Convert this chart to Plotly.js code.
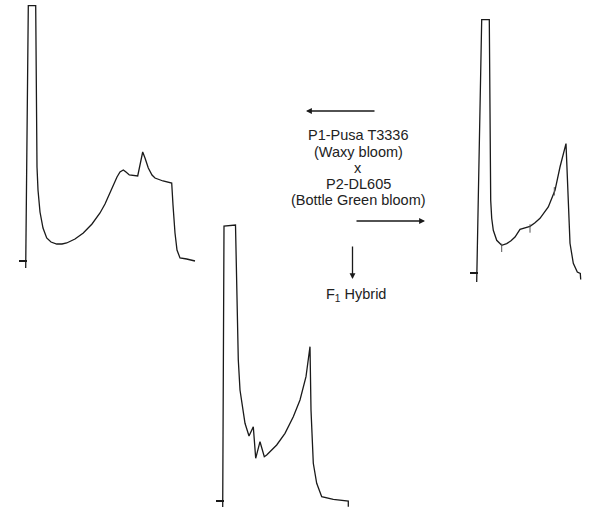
<!DOCTYPE html>
<html>
<head>
<meta charset="utf-8">
<script src="https://cdn.plot.ly/plotly-3.0.1.min.js"></script>
<style>html,body{margin:0;padding:0;background:#fff;}#chart{width:589px;height:508px;}</style>
</head>
<body>
<div id="chart"></div>
<script>
// Profile 1 : P1-Pusa T3336 (Waxy bloom)
const p1X = [0, 2.6, 10, 10.5, 11.3, 12.3, 14.3, 17.3, 21, 25.3, 31, 36.3, 41, 49.3, 57.6, 66.3, 74.3, 79.3, 84.3, 88.3, 91.3, 94.3, 97.6, 100.3, 103.6, 112, 114.3, 117, 119.3, 122.6, 126.3, 129.3, 137.3, 146, 147.3, 149.3, 151.3, 154.3, 161, 169.3];
const p1Y = [-7, 255.3, 255.3, 141, 94, 71, 49, 33, 23, 19, 17, 17, 18, 22, 28, 37, 48, 57, 68, 78, 84, 89, 91, 89, 86, 85, 96, 109, 103, 93, 86, 83, 80, 78, 56, 28, 11, 3, 2, 0];

// Profile 2 : P2-DL605 (Bottle Green bloom)
const p2X = [0, 5, 12.6, 13.3, 14, 15, 16.6, 20, 25, 30, 34.3, 38.3, 43.3, 53.3, 58.3, 63.3, 71.6, 78.3, 83.3, 89.3, 91.6, 93.3, 96.6, 100.6, 103.6, 104];
const p2Y = [-9, 253.4, 253.4, 152.7, 72.7, 54.7, 42.7, 32.7, 27.7, 29.4, 32.2, 36, 43.7, 46.7, 50.2, 54.7, 66, 82.7, 106, 129.4, 72.7, 29.7, 9.7, 1, -0.5, -6.5];
const p2MarkX = [25, 53.3, 77.6];
const p2MarkY = [25.2, 44.5, 81.7];

// Profile 3 : F1 Hybrid
const p3X = [0, 1.3, 12.8, 14.3, 15.6, 17.3, 19, 22.3, 26.3, 30.6, 33, 37.3, 41.6, 44, 54, 62.3, 70.6, 77.3, 83.3, 87.3, 88.3, 89.3, 90.6, 94, 99, 110.6, 125.6, 125.6];
const p3Y = [-6, 275, 276, 201, 141, 111, 97.7, 77.7, 65, 74.3, 42.7, 59.3, 44.3, 46, 56, 67.7, 84.3, 101, 124.3, 154.3, 91, 61, 37.7, 17.7, 4.3, 1.7, 0, -5.7];

const crossLabel = ["P1-Pusa T3336", "(Waxy bloom)", "x", "P2-DL605", "(Bottle Green bloom)"];
const crossLineY = [135, 151.5, 168, 184, 200];
const hybridLabel = "F<sub>1</sub> Hybrid";

const W = 589, H = 508;
const lineStyle = {color: '#1a1a1a', width: 1.3, shape: 'linear'};

const traces = [
  {x: p1X, y: p1Y, xaxis: 'x', yaxis: 'y', mode: 'lines', line: lineStyle, hoverinfo: 'skip'},
  {x: p2X, y: p2Y, xaxis: 'x2', yaxis: 'y2', mode: 'lines', line: lineStyle, hoverinfo: 'skip'},
  {x: p2MarkX, y: p2MarkY, xaxis: 'x2', yaxis: 'y2', mode: 'markers',
   marker: {symbol: 'line-ns', size: 6, line: {color: '#555', width: 1}}, hoverinfo: 'skip'},
  {x: p3X, y: p3Y, xaxis: 'x3', yaxis: 'y3', mode: 'lines', line: lineStyle, hoverinfo: 'skip'}
];

const TICK_SHIFT = 1.5;
function xAx(leftPx, rightPx, startVal) {
  return {domain: [leftPx / W, rightPx / W], range: [startVal, startVal + (rightPx - leftPx)],
          visible: false, fixedrange: true};
}
function yAx(topPx, bottomPx, baselinePx, linePx) {
  return {domain: [(H - bottomPx) / H, (H - topPx) / H],
          range: [baselinePx - bottomPx, baselinePx - topPx],
          anchor: 'free', position: (linePx + TICK_SHIFT) / W,
          showgrid: false, zeroline: false, showline: false,
          ticks: 'outside', tickvals: [0], ticklen: 8, tickwidth: 1.2, tickcolor: '#1a1a1a',
          showticklabels: false, fixedrange: true};
}

const font = {family: 'Liberation Sans, Arial, sans-serif', size: 14.5, color: '#222'};
function arrow(headX, headY, ax, ay) {
  return {x: headX / W, y: 1 - headY / H, xref: 'paper', yref: 'paper', text: '',
          showarrow: true, ax: ax, ay: ay, arrowhead: 2, arrowsize: 0.9, arrowwidth: 1.3,
          arrowcolor: '#1a1a1a'};
}

const annotations = crossLabel.map((t, i) => ({
  x: 358 / W, y: 1 - crossLineY[i] / H, xref: 'paper', yref: 'paper', text: t,
  showarrow: false, font: font, xanchor: 'center', yanchor: 'middle'
}));
annotations.push({x: 355.5 / W, y: 1 - 295 / H, xref: 'paper', yref: 'paper', text: hybridLabel,
  showarrow: false, font: font, xanchor: 'center', yanchor: 'middle'});
annotations.push(arrow(306, 111, 70, 0), arrow(425, 221, -70, 0), arrow(352.5, 279, 0, -34));

const layout = {
  width: W, height: H,
  margin: {l: 0, r: 0, t: 0, b: 0},
  paper_bgcolor: '#fff', plot_bgcolor: 'rgba(0,0,0,0)',
  showlegend: false,
  xaxis: xAx(20, 200, -5.7),
  yaxis: yAx(0, 270, 261, 25.7),
  xaxis2: xAx(470, 589, -6.7),
  yaxis2: yAx(0, 284, 273, 476.7),
  xaxis3: xAx(216, 360, -6.7),
  yaxis3: yAx(210, 508, 501, 222.7),
  annotations: annotations
};

Plotly.newPlot('chart', traces, layout, {displayModeBar: false, staticPlot: true});
</script>
</body>
</html>
